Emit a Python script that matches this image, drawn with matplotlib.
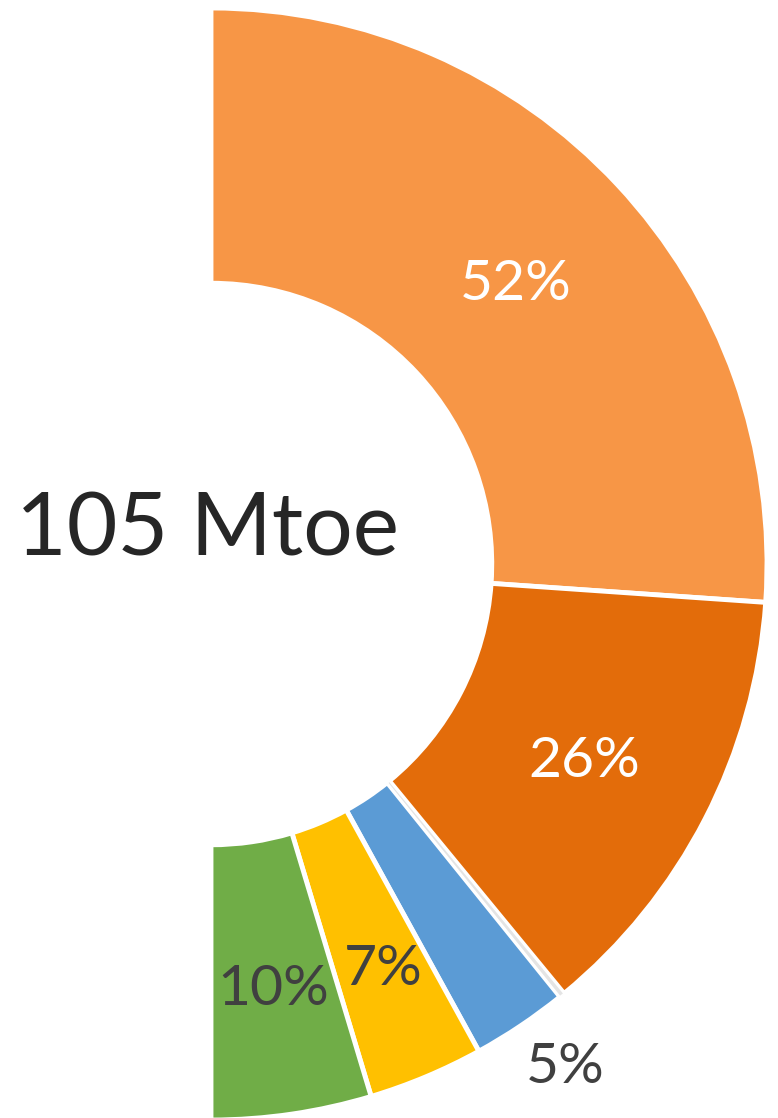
import matplotlib
matplotlib.use("Agg")
import matplotlib.pyplot as plt
import numpy as np

# Data
categories = ["Segment A", "Segment B", "Other", "Segment C", "Segment D", "Segment E"]
values = [52.2, 25.9, 0.3, 5.6, 6.7, 9.3]
labels = ["52%", "26%", "", "5%", "7%", "10%"]
colors = ["#F79646", "#E36C0A", "#E4E4E4", "#5B9BD5", "#FFC000", "#70AD47"]
label_colors = ["white", "white", "#404040", "#404040", "#404040", "#404040"]
label_radius = [0.75, 0.755, 0.0, 1.10, 0.785, 0.765]
label_angle_shift = [0.0, 0.0, 0.0, 1.5, 0.5, 0.0]
center_text = "105 Mtoe"

plt.rcParams['font.family'] = ['Lato', 'DejaVu Sans']

fig = plt.figure(figsize=(7.78, 11.18), dpi=100)
ax = fig.add_axes([0, 0, 1, 1])

all_vals = values + [sum(values)]
all_cols = colors + ["none"]
wedges, _ = ax.pie(all_vals, colors=all_cols, startangle=90, counterclock=False,
                   radius=1.0,
                   wedgeprops=dict(width=0.495, edgecolor="white", linewidth=3.5))
wedges[-1].set_visible(False)
wedges[2].set_linewidth(1.2)
wedges[2].set_zorder(3)

for w, lab, lc, lr, sh in zip(wedges[:-1], labels, label_colors, label_radius,
                              label_angle_shift):
    if not lab:
        continue
    ang = np.deg2rad((w.theta1 + w.theta2) / 2.0 + sh)
    ax.text(lr * np.cos(ang), lr * np.sin(ang), lab, color=lc, fontsize=41,
            ha="center", va="center_baseline", zorder=5)

ax.text(-0.007, 0.0144, center_text, fontsize=63, color="#262626",
        ha="center", va="baseline")

ax.set_aspect("equal")
ax.set_xlim(-0.3795, 1.0198)
ax.set_ylim(-0.9964, 1.0144)
ax.axis("off")

fig.savefig("out.png", dpi=100)
